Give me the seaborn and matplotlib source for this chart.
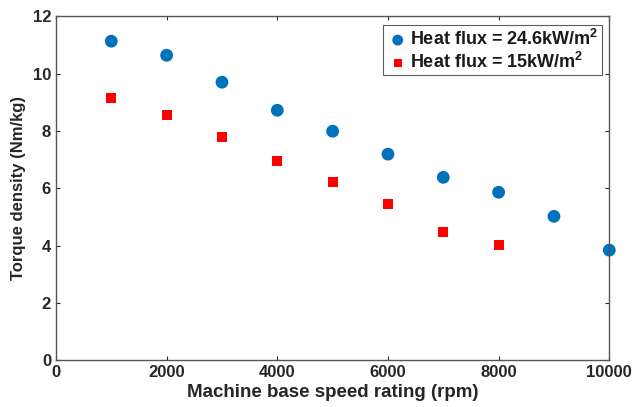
import matplotlib
matplotlib.use("Agg")
import matplotlib.pyplot as plt
import seaborn as sns
import pandas as pd

speed_hi = [1000, 2000, 3000, 4000, 5000, 6000, 7000, 8000, 9000, 10000]
torque_hi = [11.13, 10.64, 9.70, 8.72, 7.99, 7.19, 6.38, 5.86, 5.02, 3.84]
speed_lo = [1000, 2000, 3000, 4000, 5000, 6000, 7000, 8000]
torque_lo = [9.14, 8.55, 7.78, 6.94, 6.21, 5.44, 4.46, 4.01]
label_hi = r"Heat flux = 24.6kW/m$^{\mathbf{2}}$"
label_lo = r"Heat flux = 15kW/m$^{\mathbf{2}}$"
x_ticks = [0, 2000, 4000, 6000, 8000, 10000]
y_ticks = [0, 2, 4, 6, 8, 10, 12]

sns.set_style("white")
plt.rcParams["font.family"] = ["Liberation Sans", "DejaVu Sans"]
plt.rcParams["font.weight"] = "bold"
plt.rcParams["mathtext.fontset"] = "custom"
plt.rcParams["mathtext.bf"] = "Liberation Sans:bold"
plt.rcParams["mathtext.rm"] = "Liberation Sans:bold"

df_hi = pd.DataFrame({"x": speed_hi, "y": torque_hi})
df_lo = pd.DataFrame({"x": speed_lo, "y": torque_lo})

fig, ax = plt.subplots(figsize=(6.36, 4.07), dpi=100)
fig.subplots_adjust(left=0.088, right=0.958, top=0.96, bottom=0.115)

sns.scatterplot(data=df_hi, x="x", y="y", ax=ax, marker="o", s=85,
                color="#0072BD", edgecolor="none", label=label_hi, clip_on=False)
sns.scatterplot(data=df_lo, x="x", y="y", ax=ax, marker="s", s=50,
                color="#FF0000", edgecolor="none", label=label_lo, clip_on=False)

ax.set_xlim(0, 10000)
ax.set_ylim(0, 12)
ax.set_xticks(x_ticks)
ax.set_yticks(y_ticks)
ax.tick_params(axis="both", labelsize=12, colors="#262626", direction="in",
               length=3, top=True, right=True, bottom=True, left=True)
for t in ax.get_xticklabels() + ax.get_yticklabels():
    t.set_fontweight("bold")
for sp in ax.spines.values():
    sp.set_color("#555555")
    sp.set_linewidth(1.0)
ax.set_xlabel("Machine base speed rating (rpm)", fontsize=13.5, fontweight="bold",
              color="#262626", labelpad=3)
ax.set_ylabel("Torque density (Nm/kg)", fontsize=12, fontweight="bold",
              color="#262626", labelpad=5)

leg = ax.legend(loc="upper right", fontsize=13, frameon=True, fancybox=False,
                handletextpad=0.1, borderaxespad=0.3, labelspacing=0.15,
                borderpad=0.2, handlelength=1.2, markerscale=0.85,
                bbox_to_anchor=(0.997, 0.99))
leg.get_frame().set_edgecolor("#333333")
leg.get_frame().set_linewidth(0.8)
for t in leg.get_texts():
    t.set_fontweight("bold")
    t.set_color("#1a1a1a")

fig.savefig("out.png", dpi=100)
